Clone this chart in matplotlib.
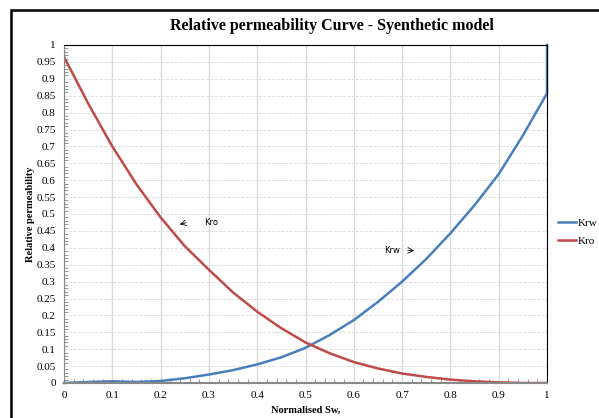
import matplotlib.pyplot as plt
import numpy as np
from matplotlib.patches import Rectangle

# normalised water saturation and relative permeabilities
sw = [0.0, 0.05, 0.1, 0.15, 0.2, 0.25, 0.3, 0.35, 0.4, 0.45, 0.5,
      0.55, 0.6, 0.65, 0.7, 0.75, 0.8, 0.85, 0.9, 0.95, 1.0]
kro = [0.965, 0.827, 0.70, 0.588, 0.49, 0.405, 0.335, 0.268, 0.211, 0.162, 0.12,
       0.088, 0.062, 0.043, 0.028, 0.018, 0.010, 0.005, 0.002, 0.0, 0.0]
sw_w = sw + [1.0]
krw = [0.0, 0.003, 0.005, 0.003, 0.006, 0.014, 0.025, 0.038, 0.055, 0.076, 0.104,
       0.142, 0.186, 0.24, 0.30, 0.367, 0.443, 0.526, 0.618, 0.732, 0.857, 1.0]

blue = '#4a7ebb'
red = '#be4b48'
serif = 'Liberation Serif'

fig = plt.figure(figsize=(5.99, 4.18), dpi=100)
ax = fig.add_axes([64/599, 1-383/418, 483/599, 338/418])

ax.plot(sw_w, krw, color=blue, lw=1.8, label='Krw', clip_on=False)
ax.plot(sw, kro, color=red, lw=1.8, label='Kro')

ax.set_xlim(0, 1)
ax.set_ylim(0, 1)
ax.set_xticks(np.arange(0, 1.01, 0.1))
ax.set_yticks(np.arange(0, 1.001, 0.05))
ax.set_xticks(np.arange(0, 1.001, 0.02), minor=True)
ax.set_yticks(np.arange(0, 1.001, 0.01), minor=True)
ax.set_xticklabels(['%g' % round(v, 2) for v in np.arange(0, 1.01, 0.1)])
ax.set_yticklabels(['%g' % round(v, 2) for v in np.arange(0, 1.001, 0.05)])
ax.tick_params(axis='both', which='major', length=0, labelsize=8, pad=6)
ax.tick_params(axis='both', which='minor', direction='in', length=3, color='#888888', width=0.6)
for lab in ax.get_xticklabels() + ax.get_yticklabels():
    lab.set_family(serif)

ax.grid(axis='x', which='major', color='#d9d9d9', lw=1.0)
ax.grid(axis='y', which='major', color='#d9d9d9', lw=0.6, ls='--')
ax.set_axisbelow(True)

ax.spines['top'].set_color('black')
ax.spines['right'].set_color('black')
ax.spines['left'].set_color('#888888')
ax.spines['bottom'].set_color('#888888')
ax.spines['bottom'].set_linewidth(1.5)

fig.text(332/599, 1-26/418, 'Relative permeability Curve - Syenthetic model', family=serif,
         fontweight='bold', fontsize=11.5, ha='center', va='center')
ax.set_xlabel('Normalised Sw,', family=serif, fontweight='bold', fontsize=7.5, labelpad=4)
ax.set_ylabel('Relative permeability', family=serif, fontweight='bold', fontsize=7.5, labelpad=1)

# curve labels with small arrows
ax.annotate('', xy=(0.234, 0.467), xytext=(0.258, 0.476),
            arrowprops=dict(arrowstyle='->', color='black', lw=0.6))
ax.text(0.304, 0.476, 'Kro', fontsize=6, ha='center', va='center')
ax.text(0.679, 0.393, 'Krw', fontsize=6, ha='center', va='center')
ax.annotate('', xy=(0.731, 0.391), xytext=(0.706, 0.393),
            arrowprops=dict(arrowstyle='->', color='black', lw=0.6))

leg = ax.legend(loc='upper left', bbox_to_anchor=(558/599, 1-218/418),
                bbox_transform=fig.transFigure, frameon=False,
                prop={'family': serif, 'size': 8}, handlelength=1.6,
                handletextpad=0.2, labelspacing=0.75, borderaxespad=0, borderpad=0)

# chart frame
fig.patches.append(Rectangle((11/599, -0.1), 1.2, 1-10/418+0.1, transform=fig.transFigure,
                             fill=False, edgecolor='black', lw=1.8))

fig.savefig('out.png', dpi=100)
